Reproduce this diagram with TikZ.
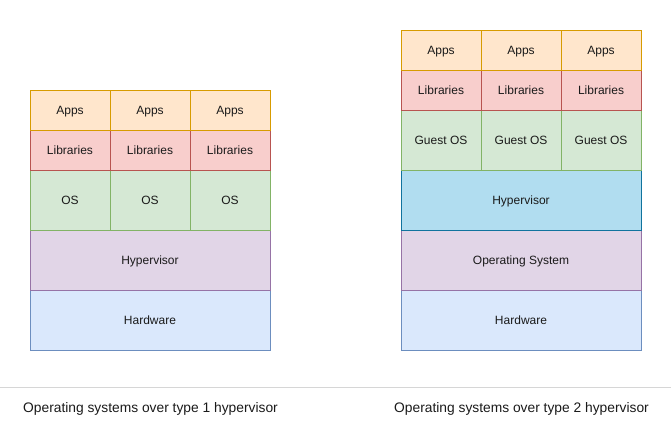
\documentclass[tikz,border=0pt]{standalone}
\usepackage{fontspec}
\setmainfont{Liberation Sans}
\definecolor{appF}{HTML}{FFE6CC}\definecolor{appD}{HTML}{D79B00}
\definecolor{libF}{HTML}{F8CECC}\definecolor{libD}{HTML}{B85450}
\definecolor{osF}{HTML}{D5E8D4}\definecolor{osD}{HTML}{82B366}
\definecolor{hvF}{HTML}{E1D5E7}\definecolor{hvD}{HTML}{9673A6}
\definecolor{hwF}{HTML}{DAE8FC}\definecolor{hwD}{HTML}{6C8EBF}
\definecolor{hbF}{HTML}{B1DDF0}\definecolor{hbD}{HTML}{10739E}
\definecolor{txt}{HTML}{1A1A1A}
\definecolor{sep}{HTML}{D6D6D6}
\tikzset{
  cell/.style={draw, line width=0.9pt, minimum width=80pt, inner sep=0pt, text=txt,
    font=\fontsize{12}{14}\selectfont, text height=8.6pt, text depth=0pt},
  wide/.style={draw, line width=0.9pt, minimum width=240pt, minimum height=60pt, inner sep=0pt, text=txt,
    font=\fontsize{12}{14}\selectfont, text height=8.6pt, text depth=0pt},
  app/.style={cell, fill=appF, draw=appD, minimum height=40pt},
  lib/.style={cell, fill=libF, draw=libD, minimum height=40pt},
  os/.style={cell, fill=osF, draw=osD, minimum height=60pt},
  hv/.style={wide, fill=hvF, draw=hvD},
  hw/.style={wide, fill=hwF, draw=hwD},
  hb/.style={wide, fill=hbF, draw=hbD},
  captext/.style={text=txt, font=\fontsize{13.8}{16}\selectfont, inner sep=0pt,
    text height=9.9pt, text depth=0pt}
}
\begin{document}
\begin{tikzpicture}[x=1pt,y=-1pt]
\useasboundingbox (0,0) rectangle (671,431);
% left stack
\node[hw] (lhw) at (150,320) {Hardware};
\node[hv] (lhv) at (150,260) {Hypervisor};
\node[os] (los1) at (70,200) {OS};
\node[os] (los2) at (150,200) {OS};
\node[os] (los3) at (230,200) {OS};
\node[lib] (llib1) at (70,150) {Libraries};
\node[lib] (llib2) at (150,150) {Libraries};
\node[lib] (llib3) at (230,150) {Libraries};
\node[app] (lapp1) at (70,110) {Apps};
\node[app] (lapp2) at (150,110) {Apps};
\node[app] (lapp3) at (230,110) {Apps};
% right stack
\node[hw] (rhw) at (521,320) {Hardware};
\node[hv] (ros) at (521,260) {Operating System};
\node[hb] (rhv) at (521,200) {Hypervisor};
\node[os] (ros1) at (441,140) {Guest OS};
\node[os] (ros2) at (521,140) {Guest OS};
\node[os] (ros3) at (601,140) {Guest OS};
\node[lib] (rlib1) at (441,90) {Libraries};
\node[lib] (rlib2) at (521,90) {Libraries};
\node[lib] (rlib3) at (601,90) {Libraries};
\node[app] (rapp1) at (441,50) {Apps};
\node[app] (rapp2) at (521,50) {Apps};
\node[app] (rapp3) at (601,50) {Apps};
% separator
\coordinate (sl) at (0,387);
\coordinate (sr) at (671,387);
\draw[sep, line width=1pt] (sl) -- (sr);
% captions
\node[captext] (c1) at (150.5,408) {Operating systems over type 1 hypervisor};
\node[captext] (c2) at (521.5,408) {Operating systems over type 2 hypervisor};
\end{tikzpicture}
\end{document}
